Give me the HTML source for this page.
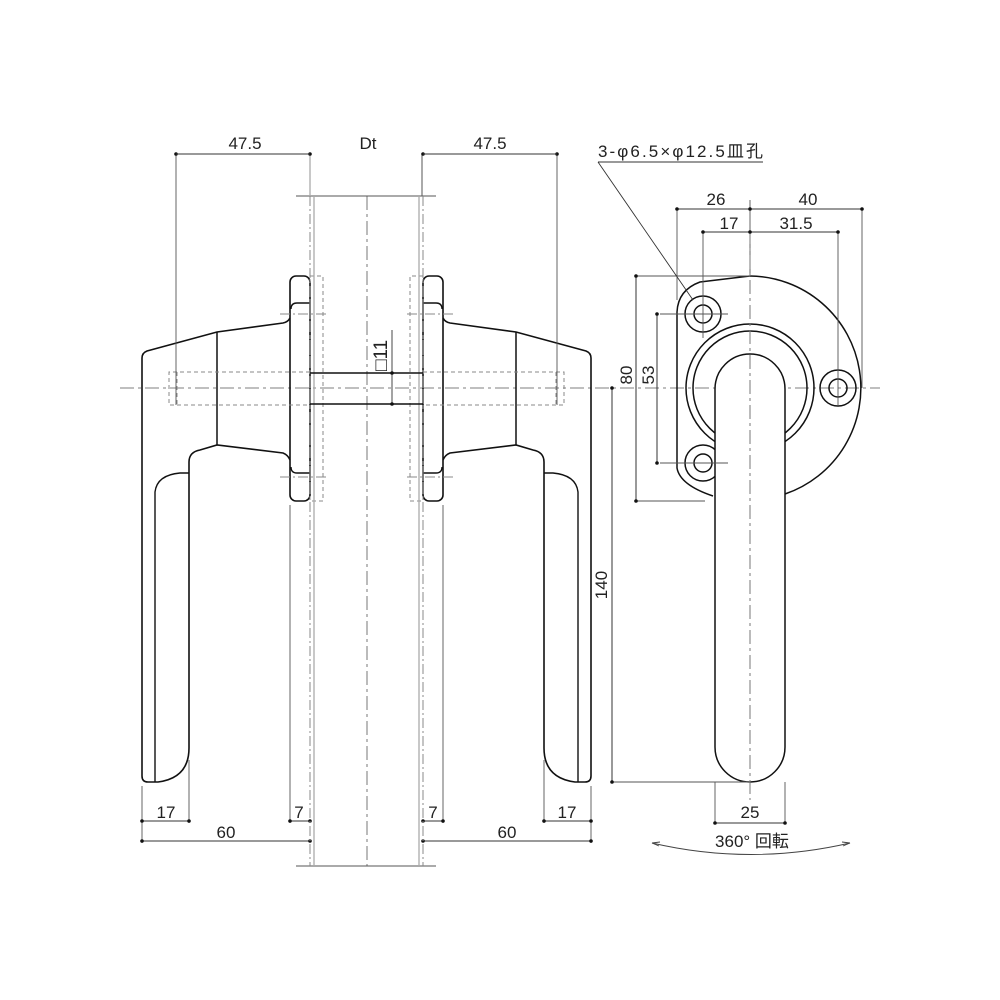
<!DOCTYPE html>
<html><head><meta charset="utf-8"><style>
html,body{margin:0;padding:0;background:#fff}
svg{display:block}
text{font-family:"Liberation Sans","Noto Sans CJK JP",sans-serif;fill:#222}
</style></head><body>
<svg width="1000" height="1000" viewBox="0 0 1000 1000" xmlns="http://www.w3.org/2000/svg">
<defs>
<g id="half">
  <rect x="290" y="276" width="20" height="225" rx="6" fill="none" stroke="#111" stroke-width="1.6"/>
  <path d="M310 303 H297 Q291 303 291 309 M310 473 H297 Q291 473 291 467" fill="none" stroke="#111" stroke-width="1.4"/>
  <rect x="310" y="276" width="13" height="225" fill="none" stroke="#888" stroke-width="1" stroke-dasharray="4,3"/>
  <path d="M280 314 H328 M280 477 H328" stroke="#888" stroke-width="1" stroke-dasharray="10,3,2,3"/>
  <path d="M290 318 Q288 322 283 323 L217 332 L147 351 Q142 353 142 358 V776 Q142 782 148 782 H158 Q189 778 189 748 V462 Q189 452 200 450 L217 445 L283 453 Q288 455 290 460" fill="none" stroke="#111" stroke-width="1.6"/>
  <path d="M217 332 V445" stroke="#111" stroke-width="1.5"/>
  <path d="M155 782 V492 Q157 475 180 473 H189" fill="none" stroke="#111" stroke-width="1.4"/>
  <path d="M310 372 H169 V405 H310 M177 372 V405" fill="none" stroke="#888" stroke-width="1" stroke-dasharray="4,3"/>
  <path d="M176 154 V405 M142 786 V843 M189 760 V823 M290 505 V823" stroke="#555" stroke-width="0.9"/>
  <path d="M142 821 H189 M290 821 H310 M142 841 H310" stroke="#333" stroke-width="1"/>
  <g fill="#111"><circle cx="142" cy="821" r="1.8"/><circle cx="189" cy="821" r="1.8"/><circle cx="290" cy="821" r="1.8"/><circle cx="310" cy="821" r="1.8"/><circle cx="142" cy="841" r="1.8"/><circle cx="310" cy="841" r="1.8"/><circle cx="176" cy="154" r="1.8"/><circle cx="310" cy="154" r="1.8"/></g>
  <path d="M176 154 H310" stroke="#333" stroke-width="1"/>
  <path d="M314 196 V866" stroke="#aaa" stroke-width="1.3"/>
  <path d="M310 196 V866" stroke="#888" stroke-width="1" stroke-dasharray="10,3,2,3"/>
</g>
</defs>
<path d="M120 388 H880" stroke="#999" stroke-width="1.2" stroke-dasharray="14,4,3,4"/>
<path d="M367 196 V866" stroke="#777" stroke-width="1" stroke-dasharray="14,4,3,4"/>
<path d="M296 196 H436 M296 866 H436" stroke="#555" stroke-width="1"/>
<path d="M310 154 V196" stroke="#aaa" stroke-width="1.3"/>
<path d="M422 154 V196" stroke="#555" stroke-width="1"/>
<use href="#half"/>
<use href="#half" transform="translate(733,0) scale(-1,1)"/>
<path d="M310 373 H423 M310 404 H423" stroke="#111" stroke-width="1.5"/>
<path d="M392 330 V404" stroke="#333" stroke-width="0.9"/>
<g fill="#111"><circle cx="392" cy="373" r="1.8"/><circle cx="392" cy="404" r="1.8"/></g>
<text transform="translate(387,371) rotate(-90)" font-size="19">□11</text>
<text x="245" y="149" font-size="17" text-anchor="middle">47.5</text>
<text x="368" y="149" font-size="17" text-anchor="middle">Dt</text>
<text x="490" y="149" font-size="17" text-anchor="middle">47.5</text>
<text x="166" y="818" font-size="17" text-anchor="middle">17</text>
<text x="299" y="818" font-size="17" text-anchor="middle">7</text>
<text x="226" y="838" font-size="17" text-anchor="middle">60</text>
<text x="433" y="818" font-size="17" text-anchor="middle">7</text>
<text x="567" y="818" font-size="17" text-anchor="middle">17</text>
<text x="507" y="838" font-size="17" text-anchor="middle">60</text>

<g fill="none" stroke="#111" stroke-width="1.5">
  <path d="M750 276 A112 112 0 0 1 785 494"/>
  <path d="M750 276 L700 282 Q678 290 677 312 V468 Q680 485 713 496"/>
  <circle cx="750" cy="388" r="64"/>
  <circle cx="750" cy="388" r="57"/>
  <circle cx="703" cy="314" r="18" fill="#fff"/><circle cx="703" cy="314" r="9"/>
  <circle cx="703" cy="463" r="18" fill="#fff"/><circle cx="703" cy="463" r="9"/>
  <circle cx="838" cy="388" r="18"/><circle cx="838" cy="388" r="9"/>
  <path d="M715 747 V389 A35 35 0 0 1 785 389 V747 A35 35 0 0 1 715 747 Z" fill="#fff"/>
</g>
<path d="M750 276 H636 M705 501 H636 M660 314 H728 M660 463 H728 M677 209 V300 M750 200 V276 M862 209 V388 M703 232 V338 M838 232 V405 M612 782 H750 M715 782 V823 M785 782 V823" stroke="#555" stroke-width="0.9"/>
<path d="M750 230 V800" stroke="#777" stroke-width="1" stroke-dasharray="14,4,3,4"/>
<path d="M677 209 H862 M703 232 H838 M636 276 V501 M657 314 V463 M612 388 V782 M715 823 H785" stroke="#333" stroke-width="1"/>
<g fill="#111"><circle cx="677" cy="209" r="1.8"/><circle cx="750" cy="209" r="1.8"/><circle cx="862" cy="209" r="1.8"/><circle cx="703" cy="232" r="1.8"/><circle cx="750" cy="232" r="1.8"/><circle cx="838" cy="232" r="1.8"/><circle cx="636" cy="276" r="1.8"/><circle cx="636" cy="501" r="1.8"/><circle cx="657" cy="314" r="1.8"/><circle cx="657" cy="463" r="1.8"/><circle cx="612" cy="388" r="1.8"/><circle cx="612" cy="782" r="1.8"/><circle cx="715" cy="823" r="1.8"/><circle cx="785" cy="823" r="1.8"/></g>
<text x="716" y="205" font-size="17" text-anchor="middle">26</text>
<text x="808" y="205" font-size="17" text-anchor="middle">40</text>
<text x="729" y="229" font-size="17" text-anchor="middle">17</text>
<text x="796" y="229" font-size="17" text-anchor="middle">31.5</text>
<text transform="translate(632,375) rotate(-90)" font-size="17" text-anchor="middle">80</text>
<text transform="translate(654,375) rotate(-90)" font-size="17" text-anchor="middle">53</text>
<text transform="translate(607,585) rotate(-90)" font-size="17" text-anchor="middle">140</text>
<text x="750" y="818" font-size="17" text-anchor="middle">25</text>
<text x="598" y="157" font-size="17" textLength="165" lengthAdjust="spacing">3-φ6.5×φ12.5皿孔</text>
<path d="M598 162 H763 M598 162 L693 300" stroke="#333" stroke-width="0.9" fill="none"/>
<text x="752" y="847" font-size="17" text-anchor="middle">360°  回転</text>
<path d="M652 843 Q751 866 850 843" stroke="#444" stroke-width="0.9" fill="none"/>
<path d="M652 843 l8 -1 M652 843 l7 3 M850 843 l-8 -1 M850 843 l-7 3" stroke="#444" stroke-width="0.9"/>
</svg>
</body></html>
